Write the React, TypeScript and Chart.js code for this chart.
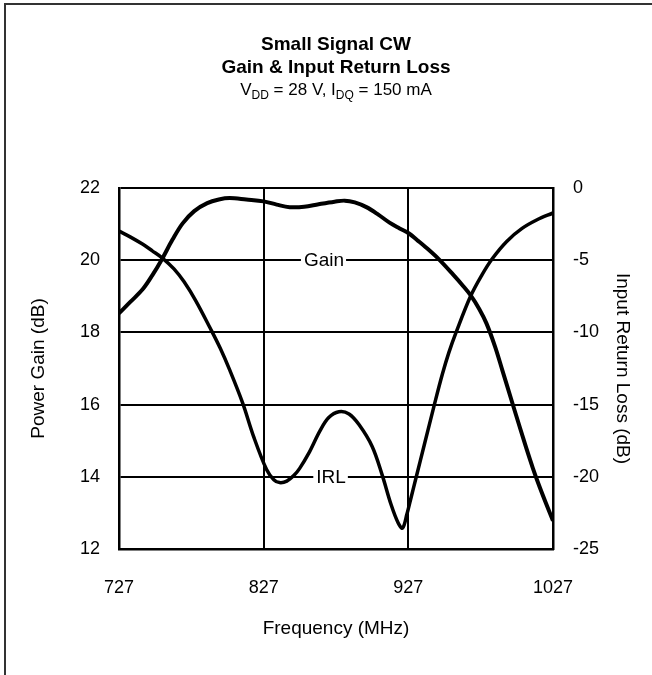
import React, { useEffect, useRef } from 'react';
import { Chart, registerables } from 'chart.js';

Chart.register(...registerables);

const FONT = 'Arial, "Liberation Sans", Helvetica, sans-serif';

const titleLine1 = 'Small Signal CW';
const titleLine2 = 'Gain & Input Return Loss';
const xAxisTitle = 'Frequency (MHz)';
const yLeftTitle = 'Power Gain (dB)';
const yRightTitle = 'Input Return Loss (dB)';

const xTicks = [727, 827, 927, 1027];
const gainTicks = [12, 14, 16, 18, 20, 22];
const irlTicks = [-25, -20, -15, -10, -5, 0];

const gainFreq = [727, 735, 743.5, 750, 757, 764, 771, 779, 788, 796, 803.5, 815, 827, 836, 845, 855, 865, 876, 883, 890, 898, 906, 914, 921, 927.5, 933, 939, 948, 958, 965, 970, 976, 981, 987, 992, 999, 1004, 1008.5, 1013, 1017, 1022, 1027];
const gainValues = [18.53, 18.85, 19.2, 19.58, 20.05, 20.57, 21.02, 21.36, 21.58, 21.68, 21.72, 21.68, 21.63, 21.54, 21.47, 21.48, 21.55, 21.62, 21.65, 21.6, 21.47, 21.27, 21.04, 20.88, 20.74, 20.56, 20.36, 20.03, 19.6, 19.28, 19.03, 18.65, 18.25, 17.6, 16.95, 16.03, 15.38, 14.8, 14.25, 13.8, 13.28, 12.78];

const irlFreq = [727, 735, 743.5, 750, 757, 765, 772, 780, 790, 797, 803.5, 812.5, 820, 829, 834, 838, 843, 848, 852, 858, 866, 872, 879, 886, 893, 902, 909, 915, 920, 923, 926, 929, 932.5, 938, 945, 950.5, 955, 960, 970, 978, 985, 995, 1005.6, 1016, 1027];
const irlValues = [-2.98, -3.4, -3.9, -4.35, -4.85, -5.6, -6.5, -7.8, -9.7, -11.1, -12.6, -14.9, -17.2, -19.5, -20.2, -20.4, -20.3, -19.9, -19.4, -18.4, -16.8, -15.9, -15.5, -15.65, -16.4, -17.9, -19.9, -21.9, -23.2, -23.55, -22.6, -21.4, -20.0, -17.8, -15.0, -12.9, -11.4, -10.0, -7.5, -6.0, -4.9, -3.7, -2.8, -2.2, -1.73];

const gainLabel = { text: 'Gain', freq: 868.7, value: 20 };
const irlLabel = { text: 'IRL', freq: 873.6, value: -20 };

function drawLabel(ctx: CanvasRenderingContext2D, text: string, cx: number, cy: number) {
  ctx.save();
  ctx.font = `19px ${FONT}`;
  const w = ctx.measureText(text).width;
  ctx.fillStyle = '#fff';
  ctx.fillRect(cx - w / 2 - 3, cy - 11, w + 5, 22);
  ctx.fillStyle = '#000';
  ctx.textAlign = 'center';
  ctx.textBaseline = 'middle';
  ctx.fillText(text, cx, cy + 1);
  ctx.restore();
}

const decorPlugin = {
  id: 'decor',
  beforeDatasetsDraw(chart: any) {
    const ctx = chart.ctx as CanvasRenderingContext2D;
    const x = chart.scales.x;
    const yl = chart.scales.yGain;
    const yr = chart.scales.yIrl;
    drawLabel(ctx, gainLabel.text, x.getPixelForValue(gainLabel.freq), yl.getPixelForValue(gainLabel.value));
    drawLabel(ctx, irlLabel.text, x.getPixelForValue(irlLabel.freq), yr.getPixelForValue(irlLabel.value));
  },
  afterDraw(chart: any) {
    const ctx = chart.ctx as CanvasRenderingContext2D;
    const area = chart.chartArea;
    const cx = (area.left + area.right) / 2;
    ctx.save();
    ctx.strokeStyle = '#333';
    ctx.lineWidth = 2;
    ctx.beginPath();
    ctx.moveTo(5, 675);
    ctx.lineTo(5, 4);
    ctx.lineTo(652, 4);
    ctx.stroke();
    ctx.fillStyle = '#000';
    ctx.textAlign = 'center';
    ctx.textBaseline = 'middle';
    ctx.font = `bold 19px ${FONT}`;
    ctx.fillText(titleLine1, cx, 45);
    ctx.fillText(titleLine2, cx, 68);
    const parts: [string, boolean][] = [
      ['V', false], ['DD', true], [' = 28 V, I', false], ['DQ', true], [' = 150 mA', false],
    ];
    const big = `17px ${FONT}`;
    const small = `12px ${FONT}`;
    let total = 0;
    for (const [t, sub] of parts) {
      ctx.font = sub ? small : big;
      total += ctx.measureText(t).width;
    }
    let px = cx - total / 2;
    ctx.textAlign = 'left';
    ctx.textBaseline = 'alphabetic';
    const baseY = 95;
    for (const [t, sub] of parts) {
      ctx.font = sub ? small : big;
      ctx.fillText(t, px, sub ? baseY + 4 : baseY);
      px += ctx.measureText(t).width;
    }
    ctx.restore();
  },
};

export default function App() {
  const ref = useRef<HTMLCanvasElement | null>(null);
  useEffect(() => {
    if (!ref.current) return;
    const chart = new Chart(ref.current, {
      type: 'line',
      data: {
        datasets: [
          {
            label: 'Gain',
            data: gainFreq.map((f, i) => ({ x: f, y: gainValues[i] })),
            yAxisID: 'yGain',
            borderColor: '#000',
            borderWidth: 4,
            pointRadius: 0,
            tension: 0.35,
            fill: false,
          },
          {
            label: 'IRL',
            data: irlFreq.map((f, i) => ({ x: f, y: irlValues[i] })),
            yAxisID: 'yIrl',
            borderColor: '#000',
            borderWidth: 3.5,
            pointRadius: 0,
            tension: 0.35,
            fill: false,
          },
        ],
      },
      options: {
        responsive: false,
        animation: false,
        devicePixelRatio: 1,
        layout: { padding: { top: 188, left: 0, right: 0, bottom: 0 } },
        plugins: { legend: { display: false }, tooltip: { enabled: false }, title: { display: false } },
        scales: {
          x: {
            type: 'linear',
            min: 727,
            max: 1027,
            afterBuildTicks: (s: any) => { s.ticks = xTicks.map((v) => ({ value: v })); },
            afterFit: (s: any) => { s.height = 126; },
            grid: { color: '#000', lineWidth: 2, drawTicks: false },
            border: { display: true, color: '#000', width: 2.5 },
            ticks: { color: '#000', font: { family: FONT, size: 18 }, padding: 28, maxRotation: 0, autoSkip: false, callback: (v: any) => String(v) },
            title: { display: true, text: xAxisTitle, color: '#000', font: { family: FONT, size: 19 }, padding: { top: 0, bottom: 35 } },
          },
          yGain: {
            type: 'linear',
            position: 'left',
            min: 12,
            max: 22,
            afterBuildTicks: (s: any) => { s.ticks = gainTicks.map((v) => ({ value: v })); },
            afterFit: (s: any) => { s.width = 119; },
            grid: { color: '#000', lineWidth: 2, drawTicks: false },
            border: { display: true, color: '#000', width: 2.5 },
            ticks: { color: '#000', font: { family: FONT, size: 18 }, padding: 19, callback: (v: any) => String(v) },
            title: { display: true, text: yLeftTitle, color: '#000', font: { family: FONT, size: 19 }, padding: { top: 27, bottom: 0 } },
          },
          yIrl: {
            type: 'linear',
            position: 'right',
            min: -25,
            max: 0,
            afterBuildTicks: (s: any) => { s.ticks = irlTicks.map((v) => ({ value: v })); },
            afterFit: (s: any) => { s.width = 99; },
            grid: { display: false, drawTicks: false },
            border: { display: true, color: '#000', width: 2.5 },
            ticks: { color: '#000', font: { family: FONT, size: 18 }, padding: 20, callback: (v: any) => String(v) },
            title: { display: true, text: yRightTitle, color: '#000', font: { family: FONT, size: 19 }, padding: { top: 18, bottom: 0 } },
          },
        },
      },
      plugins: [decorPlugin],
    } as any);
    return () => chart.destroy();
  }, []);
  return (
    <div style={{ position: 'fixed', left: 0, top: 0, width: 652, height: 675, background: '#fff' }}>
      <canvas ref={ref} width={652} height={675} style={{ display: 'block', width: 652, height: 675 }} />
    </div>
  );
}
